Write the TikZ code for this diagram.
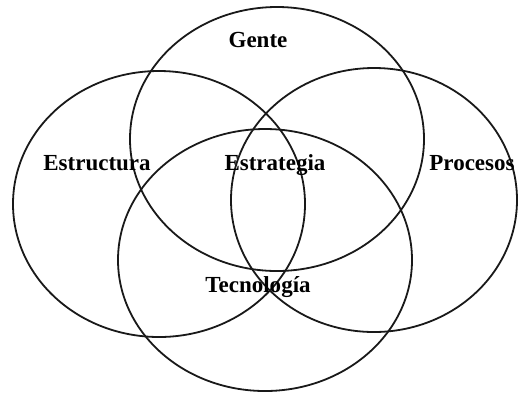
\documentclass[tikz,border=0pt]{standalone}
\usepackage{fontspec}
\setmainfont{Liberation Serif}
\begin{document}
\begin{tikzpicture}[x=1pt,y=-1pt,
  ring/.style={draw=black!90, line width=1.8pt},
  label/.style={font=\bfseries\fontsize{23}{27}\selectfont, anchor=base, inner sep=0pt}]
\useasboundingbox (0,0) rectangle (518,392);
% four overlapping domains
\draw[ring] (277,139) ellipse [x radius=147, y radius=132];
\draw[ring] (159,204) ellipse [x radius=146, y radius=133];
\draw[ring] (374,200) ellipse [x radius=143, y radius=132];
\draw[ring] (265,260) ellipse [x radius=147, y radius=131];
% labels
\node[label] (gente) at (258,47) {Gente};
\node[label] (estructura) at (97,170) {Estructura};
\node[label] (estrategia) at (275,170) {Estrategia};
\node[label] (procesos) at (472,170) {Procesos};
\node[label] (tecnologia) at (258,292) {Tecnología};
\end{tikzpicture}
\end{document}
